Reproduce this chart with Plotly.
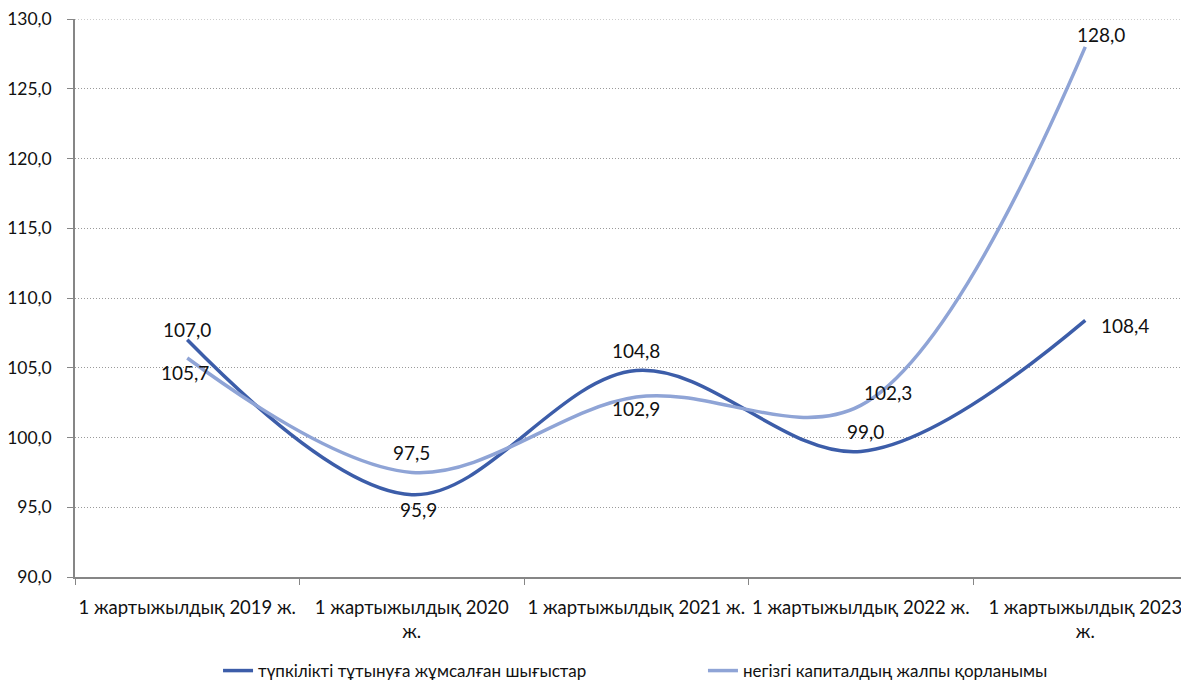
import plotly.graph_objects as go

categories = ["1 жартыжылдық 2019 ж.", "1 жартыжылдық 2020<br>ж.", "1 жартыжылдық 2021 ж.",
              "1 жартыжылдық 2022 ж.", "1 жартыжылдық 2023<br>ж."]
consumption = [107.0, 95.9, 104.8, 99.0, 108.4]
investment = [105.7, 97.5, 102.9, 102.3, 128.0]
series_names = ["түпкілікті тұтынуға жұмсалған шығыстар", "негізгі капиталдың жалпы қорланымы"]
y_min, y_max, y_step = 90, 130, 5

# label offsets (pixels) relative to each data point
cons_shift = [(0, 10), (7, -15), (0, 20), (5, 20), (40, -5)]
inv_shift = [(-2, -15), (0, 20), (0, -11), (27, 13), (16, 12)]

def fmt(v):
    return f"{v:.1f}".replace(".", ",")

FONT = "Lato, Liberation Sans, sans-serif"
fig = go.Figure()
fig.add_trace(go.Scatter(
    x=categories, y=consumption, name=series_names[0], mode="lines",
    line=dict(color="#3C5DA9", width=3.5, shape="spline", smoothing=1.0),
    legend="legend"))
fig.add_trace(go.Scatter(
    x=categories, y=investment, name=series_names[1], mode="lines",
    line=dict(color="#8FA4D6", width=3.5, shape="spline", smoothing=1.0),
    legend="legend2"))

annotations = []
for vals, shifts in ((consumption, cons_shift), (investment, inv_shift)):
    for c, v, (dx, dy) in zip(categories, vals, shifts):
        annotations.append(dict(x=c, y=v, text=fmt(v), showarrow=False,
                                xshift=dx, yshift=dy, xanchor="center", yanchor="middle",
                                font=dict(size=19, color="#111111", family=FONT)))

# top gridline (at the range edge)
fig.add_shape(type="line", xref="paper", x0=0, x1=1, yref="y", y0=y_max, y1=y_max,
              line=dict(color="#9a9a9a", width=1, dash="1px,2px"), layer="below")

# page body has an 8px margin, so the figure is 8px smaller than the window
fig.update_layout(
    width=1181, height=672,
    margin=dict(l=67, r=0, t=11, b=103, autoexpand=False),
    paper_bgcolor="white", plot_bgcolor="white",
    separators=", ",
    font=dict(family=FONT, size=17, color="#111111"),
    showlegend=True,
    annotations=annotations,
    legend=dict(orientation="h", x=0.1284, xanchor="left", y=-0.1685, yanchor="middle",
                font=dict(size=17, family=FONT)),
    legend2=dict(orientation="h", x=0.5637, xanchor="left", y=-0.1685, yanchor="middle",
                 font=dict(size=17, family=FONT)),
    xaxis=dict(type="category", range=[-0.5, 4.462], tickson="boundaries",
               ticks="outside", ticklen=6, tickcolor="#868686",
               showline=True, linecolor="#868686", linewidth=1.5,
               showgrid=False, tickfont=dict(size=18.5), ticklabelstandoff=13,
               tickangle=0, ticklabeloverflow="allow", automargin=False),
    yaxis=dict(range=[y_min, y_max], dtick=y_step, tickformat=".1f",
               ticks="outside", ticklen=6, tickcolor="#868686",
               showline=True, linecolor="#868686", linewidth=1.5,
               showgrid=True, gridcolor="#9a9a9a", griddash="1px,2px", gridwidth=1,
               zeroline=False, tickfont=dict(size=17.5), ticklabelstandoff=12,
               ticklabeloverflow="allow", automargin=False),
)
fig.write_html("out.html")
